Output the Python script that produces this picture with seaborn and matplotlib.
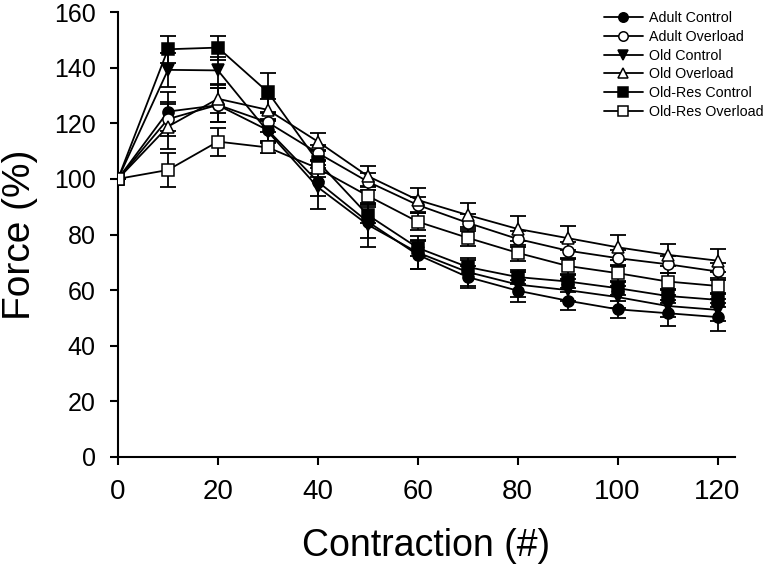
import numpy as np
import pandas as pd
import matplotlib
matplotlib.use("Agg")
import matplotlib.pyplot as plt
import seaborn as sns

contraction = [0, 10, 20, 30, 40, 50, 60, 70, 80, 90, 100, 110, 120]

groups = ["Adult Control", "Adult Overload", "Old Control", "Old Overload",
          "Old-Res Control", "Old-Res Overload"]

adult_control = [100, 124.2, 126.5, 117.5, 99.0, 84.6, 72.7, 64.7, 59.8, 56.2, 53.1, 51.7, 50.3]
adult_overload = [100, 121.5, 126.6, 120.3, 109.3, 99.0, 90.6, 84.2, 78.4, 74.2, 71.5, 69.3, 66.7]
old_control = [100, 139.2, 139.0, 117.0, 97.0, 83.5, 73.5, 66.5, 62.0, 60.0, 57.5, 54.3, 52.9]
old_overload = [100, 118.8, 128.8, 124.8, 113.4, 101.0, 92.4, 87.0, 82.0, 78.7, 75.4, 72.7, 70.6]
oldres_control = [100, 146.6, 147.2, 131.2, 106.2, 87.0, 75.2, 68.3, 64.7, 63.1, 60.7, 57.9, 56.5]
oldres_overload = [100, 103.2, 113.4, 111.3, 103.8, 93.9, 84.6, 78.8, 73.4, 68.7, 66.1, 63.1, 61.5]

adult_control_err = [0, 7.0, 6.0, 4.0, 5.0, 6.0, 5.0, 4.0, 4.0, 3.3, 3.0, 4.6, 5.0]
adult_overload_err = [0, 6.0, 6.0, 3.5, 3.0, 3.0, 3.0, 3.0, 3.0, 3.0, 3.0, 3.0, 3.0]
old_control_err = [0, 6.0, 5.0, 4.0, 8.0, 8.0, 6.0, 5.0, 4.5, 4.0, 4.0, 4.0, 4.0]
old_overload_err = [0, 8.0, 5.0, 4.0, 3.0, 3.5, 4.2, 4.3, 4.5, 4.4, 4.5, 4.0, 4.2]
oldres_control_err = [0, 4.8, 4.3, 7.0, 4.0, 3.0, 3.0, 2.5, 2.5, 2.5, 2.5, 2.5, 2.5]
oldres_overload_err = [0, 6.0, 5.0, 2.0, 3.0, 3.0, 3.0, 3.0, 3.0, 3.0, 3.0, 3.0, 3.0]

values = [adult_control, adult_overload, old_control, old_overload, oldres_control, oldres_overload]
errors = [adult_control_err, adult_overload_err, old_control_err, old_overload_err,
          oldres_control_err, oldres_overload_err]
markers = ["o", "o", "v", "^", "s", "s"]
faces = ["black", "white", "black", "white", "black", "white"]

rows = []
for g, v, e in zip(groups, values, errors):
    for x, y, err in zip(contraction, v, e):
        rows.append({"Contraction": x, "Force": y, "err": err, "Group": g})
df = pd.DataFrame(rows)

sns.set_style("ticks")
plt.rcParams["font.family"] = ["Liberation Sans", "DejaVu Sans"]
plt.rcParams["text.color"] = "black"
plt.rcParams["axes.labelcolor"] = "black"
plt.rcParams["xtick.color"] = "black"
plt.rcParams["ytick.color"] = "black"

fig = plt.figure(figsize=(7.8, 5.69), dpi=100)
ax = fig.add_axes([118 / 780, 1 - 457 / 569, (735 - 118) / 780, (457 - 12) / 569])

for g, m, fc in zip(groups, markers, faces):
    d = df[df["Group"] == g]
    ax.errorbar(d["Contraction"], d["Force"], yerr=d["err"], fmt="none",
                ecolor="black", elinewidth=1.3, capsize=6, capthick=1.3, zorder=2)
    sns.lineplot(data=d, x="Contraction", y="Force", ax=ax, color="black",
                 marker=m, markersize=8, markerfacecolor=fc, markeredgecolor="black",
                 markeredgewidth=1.1, linewidth=1.3, label=g, zorder=3, errorbar=None)

ax.set_xlim(0, 123.5)
ax.set_ylim(0, 160)
ax.set_xticks([0, 20, 40, 60, 80, 100, 120])
ax.set_yticks([0, 20, 40, 60, 80, 100, 120, 140, 160])
ax.tick_params(axis="both", direction="out", length=6, width=1.5, color="black", labelcolor="black")
ax.tick_params(axis="x", labelsize=20, pad=10)
ax.tick_params(axis="y", labelsize=18, pad=10)
for s in ["left", "bottom"]:
    ax.spines[s].set_linewidth(1.5)
    ax.spines[s].set_color("black")
sns.despine(ax=ax)
ax.set_xlabel("Contraction (#)", fontsize=27, color="black")
ax.set_ylabel("Force (%)", fontsize=28, color="black")
ax.xaxis.set_label_coords(0.5, -(528 - 457) / 445)
ax.yaxis.set_label_coords(-(118 - 20) / 617, 0.5)
ax.yaxis.label.set_va("center")
ax.xaxis.label.set_va("top")

leg = ax.legend(loc="upper left", bbox_to_anchor=(597 / 780, 1 - 4 / 569), bbox_transform=fig.transFigure,
                frameon=False, fontsize=10.3, handlelength=2.7, handletextpad=0.45,
                labelspacing=0.33, borderpad=0, markerscale=0.85)
for t in leg.get_texts():
    t.set_color("black")

fig.savefig("out.png", dpi=100)
